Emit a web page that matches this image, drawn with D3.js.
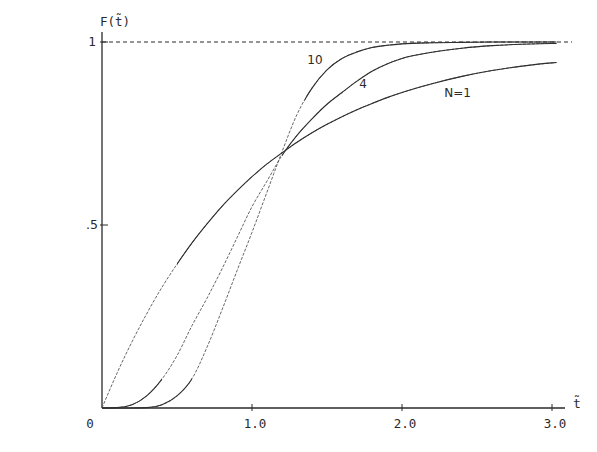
<!DOCTYPE html>
<html>
<head>
<meta charset="utf-8">
<script src="https://cdn.jsdelivr.net/npm/d3@7"></script>
<style>
  body { margin: 0; background: #fff; }
  svg { display: block; }
</style>
</head>
<body>
<script>
// values: F(t) for N = 1, 4, 10
const tValues = [0, 0.1, 0.2, 0.3, 0.4, 0.5, 0.6, 0.7, 0.8, 0.9, 1.0, 1.1, 1.2, 1.3, 1.4,
                 1.5, 1.6, 1.7, 1.8, 1.9, 2.0, 2.2, 2.4, 2.6, 2.8, 3.0, 3.03];
const fN1  = [0, 0.095, 0.181, 0.259, 0.330, 0.393, 0.451, 0.503, 0.551, 0.593, 0.632, 0.667, 0.697, 0.726, 0.752,
              0.775, 0.796, 0.815, 0.832, 0.848, 0.862, 0.886, 0.906, 0.922, 0.934, 0.943, 0.944];
const fN4  = [0, 0.001, 0.009, 0.034, 0.079, 0.143, 0.225, 0.300, 0.380, 0.465, 0.550, 0.620, 0.690, 0.745, 0.790,
              0.830, 0.862, 0.893, 0.920, 0.940, 0.955, 0.972, 0.983, 0.990, 0.994, 0.996, 0.996];
const fN10 = [0, 0, 0, 0.001, 0.009, 0.033, 0.080, 0.166, 0.268, 0.375, 0.480, 0.590, 0.700, 0.802, 0.874,
              0.924, 0.955, 0.973, 0.985, 0.991, 0.995, 0.998, 0.999, 1, 1, 1, 1];
const seriesNames = ["N=1", "4", "10"];
const xTicks = [1, 2, 3];
const xTickLabels = ["1.0", "2.0", "3.0"];
const yTicks = [0.5, 1];
const yTickLabels = [".5", "1"];

const width = 597, height = 452;
const ink = "#2a2a2a";
const monoFont = "'DejaVu Sans Mono', 'Liberation Mono', monospace";
const sansFont = "'DejaVu Sans', Arial, sans-serif";

const x = d3.scaleLinear().domain([0, 3]).range([102, 552]);
const y = d3.scaleLinear().domain([0, 1]).range([408, 42]);

const svg = d3.select("body").append("svg")
  .attr("width", width)
  .attr("height", height);

// dashed asymptote at F = 1
svg.append("line")
  .attr("x1", x(0)).attr("x2", 572)
  .attr("y1", y(1)).attr("y2", y(1))
  .attr("stroke", ink)
  .attr("stroke-width", 1)
  .attr("stroke-dasharray", "4,3");

// axes
svg.append("line")
  .attr("x1", x(0)).attr("x2", 565)
  .attr("y1", y(0)).attr("y2", y(0))
  .attr("stroke", ink).attr("stroke-width", 1.3);
svg.append("line")
  .attr("x1", x(0)).attr("x2", x(0))
  .attr("y1", y(0)).attr("y2", 32)
  .attr("stroke", ink).attr("stroke-width", 1.3);

svg.selectAll(".xtick")
  .data(xTicks)
  .join("line")
  .attr("class", "xtick")
  .attr("x1", d => x(d)).attr("x2", d => x(d))
  .attr("y1", y(0) - 4).attr("y2", y(0) + 3)
  .attr("stroke", ink).attr("stroke-width", 1);

svg.selectAll(".ytick")
  .data(yTicks)
  .join("line")
  .attr("class", "ytick")
  .attr("x1", x(0) - 2).attr("x2", x(0) + 6)
  .attr("y1", d => y(d)).attr("y2", d => y(d))
  .attr("stroke", ink).attr("stroke-width", 1);

svg.selectAll(".xlabel")
  .data(xTicks)
  .join("text")
  .attr("class", "xlabel")
  .attr("x", d => x(d) + 3)
  .attr("y", 428)
  .attr("text-anchor", "middle")
  .attr("font-family", monoFont)
  .attr("font-size", 12.5)
  .attr("fill", ink)
  .text((d, i) => xTickLabels[i]);

svg.append("text")
  .attr("x", 90).attr("y", 428)
  .attr("text-anchor", "middle")
  .attr("font-family", monoFont)
  .attr("font-size", 12.5)
  .attr("fill", ink)
  .text("0");

svg.selectAll(".ylabel")
  .data(yTicks)
  .join("text")
  .attr("class", "ylabel")
  .attr("x", 92)
  .attr("y", d => y(d) + 4)
  .attr("text-anchor", "middle")
  .attr("font-family", d => d === 1 ? monoFont : sansFont)
  .attr("font-size", 12.5)
  .attr("fill", ink)
  .text((d, i) => yTickLabels[i]);

// axis titles
svg.append("text")
  .attr("x", 115).attr("y", 26)
  .attr("text-anchor", "middle")
  .attr("font-family", monoFont)
  .attr("font-size", 12.5)
  .attr("fill", ink)
  .text("F(t\u0303)");

svg.append("text")
  .attr("x", 577).attr("y", 408)
  .attr("text-anchor", "middle")
  .attr("font-family", monoFont)
  .attr("font-size", 13)
  .attr("fill", ink)
  .text("t\u0303");

// curves: steep stretches came out as broken dots on the plotter, flat ones solid
const series = [fN1, fN4, fN10].map((vals, i) => ({
  name: seriesNames[i],
  points: tValues.map((t, j) => [t, vals[j]])
}));
const solidFrom = {"N=1": [[0.5, 3.1]], "4": [[0, 0.4], [1.2, 3.1]], "10": [[0, 0.6], [1.35, 3.1]]};

const line = d3.line()
  .x(d => x(d[0]))
  .y(d => y(d[1]))
  .curve(d3.curveMonotoneX);

svg.selectAll(".curve")
  .data(series)
  .join("path")
  .attr("class", "curve")
  .attr("d", d => line(d.points))
  .attr("fill", "none")
  .attr("stroke", "#555")
  .attr("stroke-width", 0.9)
  .attr("stroke-dasharray", "3,1.5");

const clip = svg.append("defs");
series.forEach((s, i) => {
  const cp = clip.append("clipPath").attr("id", "solid" + i);
  solidFrom[s.name].forEach(([a, b]) => {
    cp.append("rect")
      .attr("x", x(a)).attr("y", 0)
      .attr("width", x(b) - x(a)).attr("height", height);
  });
  svg.append("path")
    .attr("d", line(s.points))
    .attr("clip-path", `url(#solid${i})`)
    .attr("fill", "none")
    .attr("stroke", "#2f2f2f")
    .attr("stroke-width", 1.1);
});

// curve labels
const curveLabels = [
  {text: "N=1", t: 2.37, f: 0.85},
  {text: "4", t: 1.74, f: 0.875},
  {text: "10", t: 1.42, f: 0.94}
];
svg.selectAll(".clabel")
  .data(curveLabels)
  .join("text")
  .attr("class", "clabel")
  .attr("x", d => x(d.t))
  .attr("y", d => y(d.f))
  .attr("text-anchor", "middle")
  .attr("font-family", sansFont)
  .attr("font-size", 12)
  .attr("fill", ink)
  .text(d => d.text);
</script>
</body>
</html>
